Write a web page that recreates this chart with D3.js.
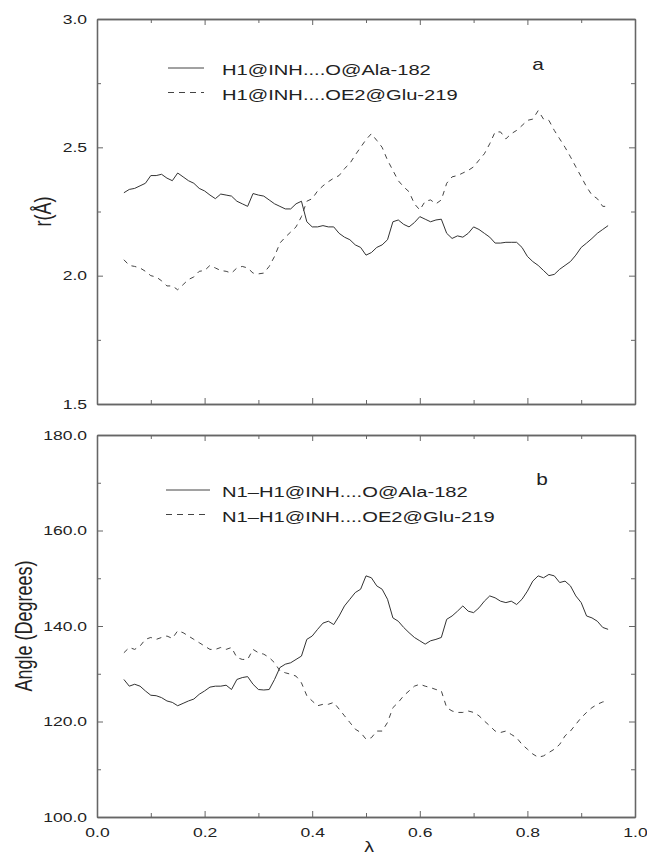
<!DOCTYPE html>
<html>
<head>
<meta charset="utf-8">
<script src="https://cdn.jsdelivr.net/npm/d3@7"></script>
<style>
  body { margin: 0; background: #fff; }
  svg { display: block; font-family: "Liberation Sans", Arial, sans-serif; }
</style>
</head>
<body>
<div id="chart"></div>
<script>
// lambda grid 0.05 .. 0.95, step 0.01
const lambda = d3.range(5, 96).map(d => d / 100);

// panel a: distances r (Angstrom)
const rAla182 = [
  2.323, 2.336, 2.34, 2.35, 2.36, 2.39, 2.39, 2.395, 2.38, 2.37,
  2.40, 2.385, 2.37, 2.36, 2.34, 2.33, 2.314, 2.30, 2.318, 2.314,
  2.31, 2.29, 2.28, 2.27, 2.32, 2.314, 2.31, 2.295, 2.28, 2.27,
  2.26, 2.26, 2.28, 2.29, 2.21, 2.19, 2.19, 2.195, 2.19, 2.19,
  2.165, 2.15, 2.14, 2.12, 2.11, 2.08, 2.09, 2.11, 2.12, 2.14,
  2.21, 2.217, 2.20, 2.19, 2.207, 2.23, 2.22, 2.21, 2.217, 2.22,
  2.165, 2.145, 2.155, 2.15, 2.165, 2.19, 2.18, 2.165, 2.15, 2.127,
  2.127, 2.13, 2.13, 2.13, 2.11, 2.075, 2.055, 2.04, 2.02, 2.0,
  2.005, 2.025, 2.04, 2.055, 2.08, 2.11, 2.127, 2.145, 2.165, 2.18,
  2.195
];
const rGlu219 = [
  2.062, 2.04, 2.036, 2.03, 2.017, 2.0, 1.995, 1.98, 1.96, 1.96,
  1.945, 1.965, 1.985, 1.995, 2.017, 2.02, 2.04, 2.03, 2.02, 2.017,
  2.01, 2.03, 2.036, 2.03, 2.01, 2.007, 2.01, 2.036, 2.075, 2.127,
  2.15, 2.17, 2.19, 2.23, 2.29, 2.30, 2.33, 2.35, 2.366, 2.38,
  2.39, 2.417, 2.437, 2.47, 2.50, 2.53, 2.553, 2.527, 2.50, 2.45,
  2.41, 2.37, 2.346, 2.327, 2.28, 2.256, 2.29, 2.295, 2.28, 2.295,
  2.36, 2.385, 2.39, 2.40, 2.41, 2.424, 2.45, 2.475, 2.514, 2.56,
  2.56, 2.533, 2.553, 2.566, 2.585, 2.605, 2.61, 2.643, 2.61, 2.605,
  2.566, 2.533, 2.50, 2.463, 2.424, 2.385, 2.346, 2.314, 2.30, 2.27,
  2.27
];

// panel b: angles (degrees)
const angAla182 = [
  128.8, 127.4, 127.8, 127.4, 126.4, 125.5, 125.4, 125.0, 124.3, 124.0,
  123.3, 123.8, 124.3, 124.7, 125.7, 126.4, 127.2, 127.4, 127.4, 127.6,
  126.7, 128.8, 129.2, 129.4, 127.8, 126.7, 126.6, 126.7, 128.8, 131.3,
  132.0, 132.3, 133.0, 133.7, 137.2, 137.9, 139.3, 140.6, 141.0, 140.3,
  142.1, 144.2, 145.6, 147.0, 147.7, 150.5, 150.1, 148.4, 147.7, 145.6,
  141.7, 141.0, 139.7, 138.6, 137.6, 136.9, 136.2, 136.9, 137.2, 137.6,
  141.4, 142.1, 143.1, 144.2, 143.1, 142.8, 143.8, 145.2, 146.3, 145.9,
  145.2, 144.9, 145.2, 144.5, 145.6, 147.3, 149.4, 150.5, 150.1, 150.8,
  150.5, 149.1, 149.4, 148.4, 146.3, 144.9, 142.1, 141.7, 141.0, 139.7,
  139.3
];
const angGlu219 = [
  134.4, 135.5, 135.1, 135.8, 137.2, 137.6, 137.2, 137.6, 137.9, 137.4,
  139.0, 138.6, 137.9, 137.2, 136.5, 135.8, 135.1, 135.1, 135.5, 135.1,
  135.5, 133.4, 133.0, 133.0, 135.1, 134.4, 134.1, 133.4, 132.3, 130.6,
  130.2, 129.9, 129.5, 128.1, 125.4, 124.3, 123.3, 123.6, 123.6, 124.0,
  122.6, 121.2, 119.8, 118.4, 117.7, 116.3, 116.6, 118.0, 118.0, 119.8,
  122.9, 124.0, 125.4, 126.4, 127.4, 127.8, 127.4, 127.1, 126.7, 126.4,
  122.9, 122.2, 121.9, 121.9, 122.2, 121.9, 121.2, 120.1, 119.1, 118.0,
  117.7, 118.0, 117.3, 116.6, 115.2, 114.2, 113.2, 112.5, 112.8, 113.5,
  114.2, 115.2, 117.0, 118.0, 119.4, 120.8, 121.9, 122.9, 123.6, 124.1,
  124.3
];

const xTicks = [0, 0.2, 0.4, 0.6, 0.8, 1.0];
const xMinor = [0.1, 0.3, 0.5, 0.7, 0.9];
const rTicks = [1.5, 2.0, 2.5, 3.0];
const rMinor = [1.75, 2.25, 2.75];
const angTicks = [100, 120, 140, 160, 180];
const angMinor = [110, 130, 150, 170];

const legendA = ["H1@INH....O@Ala-182", "H1@INH....OE2@Glu-219"];
const legendB = ["N1\u2013H1@INH....O@Ala-182", "N1\u2013H1@INH....OE2@Glu-219"];

const W = 647, H = 857;
const STRETCH = 1.3; // the scanned figure is wider than tall
const left = 97, right = 635;

const svg = d3.select("#chart").append("svg")
    .attr("width", W)
    .attr("height", H);

const x = d3.scaleLinear().domain([0, 1]).range([left, right]);

function drawPanel(opts) {
    let y = d3.scaleLinear().domain(opts.domain).range([opts.bottom, opts.top]);
    let g = svg.append("g");

    // frame + inward ticks on all four sides
    let axes = [
        [d3.axisLeft(y).tickValues(opts.ticks).tickFormat(d3.format(".1f")), left, 0, 6],
        [d3.axisLeft(y).tickValues(opts.minor).tickFormat(""), left, 0, 4],
        [d3.axisRight(y).tickValues(opts.ticks).tickFormat(""), right, 0, 6],
        [d3.axisRight(y).tickValues(opts.minor).tickFormat(""), right, 0, 4],
        [d3.axisTop(x).tickValues(xTicks).tickFormat(""), 0, opts.top, 6],
        [d3.axisTop(x).tickValues(xMinor).tickFormat(""), 0, opts.top, 4],
        [d3.axisBottom(x).tickValues(xTicks).tickFormat(opts.xLabels ? d3.format(".1f") : ""), 0, opts.bottom, 6],
        [d3.axisBottom(x).tickValues(xMinor).tickFormat(""), 0, opts.bottom, 4]
    ];
    axes.forEach(([ax, tx, ty, len]) => {
        let a = g.append("g")
            .attr("transform", `translate(${tx},${ty})`)
            .call(ax.tickSizeInner(-len).tickSizeOuter(0).tickPadding(10));
        a.select(".domain").attr("stroke", "#666").attr("stroke-width", 1.3);
        a.selectAll(".tick line").attr("stroke", "#666").attr("stroke-width", 1);
        a.selectAll(".tick text")
            .attr("font-size", 13.5)
            .attr("fill", "#222")
            .attr("font-family", "Liberation Sans, Arial, sans-serif")
            .attr("transform", `scale(${STRETCH},1)`)
            .attr("x", function () { return +d3.select(this).attr("x") / STRETCH; });
    });

    // data lines
    let line = d3.line().x((d, i) => x(lambda[i])).y(d => y(d));
    g.append("path").datum(opts.solid)
        .attr("d", line)
        .attr("fill", "none")
        .attr("stroke", "#333")
        .attr("stroke-width", 1);
    g.append("path").datum(opts.dashed)
        .attr("d", line)
        .attr("fill", "none")
        .attr("stroke", "#444")
        .attr("stroke-width", 1)
        .attr("stroke-dasharray", "5,5");

    // legend
    opts.legend.forEach((label, i) => {
        let ly = opts.legendY + i * 24.5;
        g.append("line")
            .attr("x1", opts.legendX1).attr("x2", opts.legendX2)
            .attr("y1", ly).attr("y2", ly)
            .attr("stroke", "#444")
            .attr("stroke-width", 1)
            .attr("stroke-dasharray", i === 0 ? null : "6,5");
        g.append("text")
            .attr("transform", `translate(222,${ly + 7}) scale(${STRETCH},1)`)
            .attr("font-size", 15.5)
            .attr("fill", "#222")
            .text(label);
    });

    // panel letter
    g.append("text")
        .attr("transform", `translate(${opts.letterX},${opts.letterY}) scale(${STRETCH},1)`)
        .attr("font-size", 16)
        .attr("fill", "#222")
        .attr("text-anchor", "middle")
        .text(opts.letter);

    // y title
    g.append("text")
        .attr("transform", `translate(${opts.titleX},${(opts.top + opts.bottom) / 2}) scale(${STRETCH},1) rotate(-90)`)
        .attr("font-size", 18)
        .attr("fill", "#222")
        .attr("text-anchor", "middle")
        .text(opts.title);
}

drawPanel({
    top: 19, bottom: 404, domain: [1.5, 3.0],
    ticks: rTicks, minor: rMinor, xLabels: false,
    solid: rAla182, dashed: rGlu219,
    legend: legendA, legendY: 68, legendX1: 168, legendX2: 204,
    letter: "a", letterX: 538, letterY: 70,
    title: "r(Å)", titleX: 51
});

drawPanel({
    top: 435, bottom: 817, domain: [100, 180],
    ticks: angTicks, minor: angMinor, xLabels: true,
    solid: angAla182, dashed: angGlu219,
    legend: legendB, legendY: 490, legendX1: 166, legendX2: 210,
    letter: "b", letterX: 542, letterY: 485,
    title: "Angle (Degrees)", titleX: 32
});

// x title
svg.append("text")
    .attr("transform", `translate(${x(0.5) + 3},852) scale(${STRETCH},1)`)
    .attr("font-size", 15)
    .attr("fill", "#222")
    .attr("text-anchor", "middle")
    .text("λ");
</script>
</body>
</html>
